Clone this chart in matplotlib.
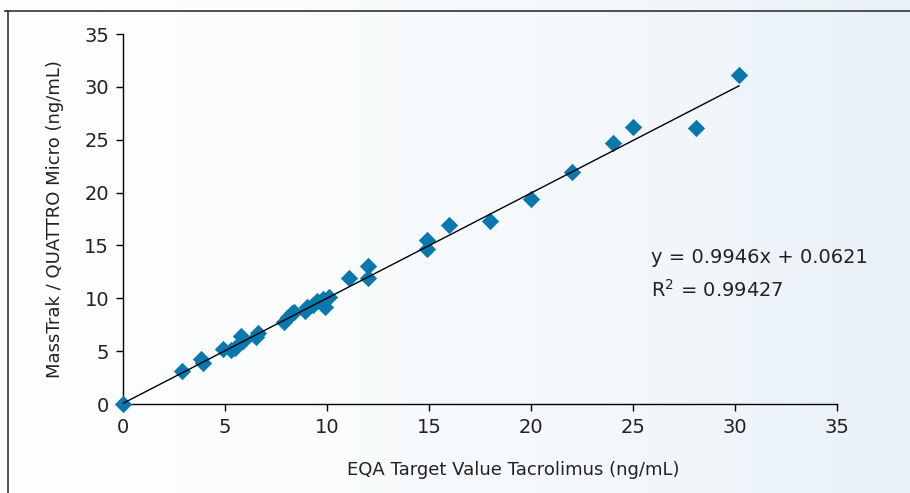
"""EQA tacrolimus comparison - MassTrak vs QUATRO Micro scatter"""
import matplotlib
matplotlib.use("Agg")
import matplotlib.pyplot as plt
from matplotlib.lines import Line2D
import numpy as np

plt.rcParams["font.family"] = ["DejaVu Sans"]
plt.rcParams["text.color"] = "#222222"
plt.rcParams["axes.labelcolor"] = "#222222"
plt.rcParams["xtick.labelcolor"] = "#222222"
plt.rcParams["ytick.labelcolor"] = "#222222"

BLUE = "#0B78AD"

# EQA target value (x) vs measured (y), ng/mL
eqa_target = [0.0, 2.9, 3.8, 3.9, 4.9, 5.3, 5.5, 5.8, 5.9, 6.5, 6.6,
              7.9, 8.1, 8.3, 8.4, 8.9, 9.0, 9.3, 9.5, 9.8, 9.9, 10.1,
              11.1, 12.0, 12.0, 14.9, 14.9, 16.0, 18.0, 20.0, 22.0,
              24.0, 25.0, 28.1, 30.2]
masstrak = [0.0, 3.1, 4.3, 3.9, 5.2, 5.1, 5.3, 6.4, 6.0, 6.3, 6.7,
            7.8, 8.2, 8.6, 8.7, 8.8, 9.2, 9.4, 9.7, 9.9, 9.2, 10.1,
            11.9, 13.1, 11.9, 15.5, 14.7, 16.9, 17.3, 19.4, 21.9,
            24.7, 26.2, 26.1, 31.1]
slope, intercept = 0.9946, 0.0621
r_squared = 0.99427
ticks = [0, 5, 10, 15, 20, 25, 30, 35]

fig = plt.figure(figsize=(9.1, 4.93), dpi=100)

# soft white -> pale blue background
bg = fig.add_axes([0, 0, 1, 1], zorder=-10)
grad = np.linspace(0, 1, 256)[None, :]
bg.imshow(grad, aspect="auto", extent=[0, 1, 0, 1],
          cmap=matplotlib.colors.LinearSegmentedColormap.from_list(
              "bg", ["#ffffff", "#fafcfd", "#f4f8fb", "#e8f1f8"]))
bg.axis("off")
fig.add_artist(Line2D([5 / 910, 1], [1 - 11 / 493, 1 - 11 / 493], color="#333333", lw=1.2))
fig.add_artist(Line2D([8 / 910, 8 / 910], [0, 1 - 11 / 493], color="#333333", lw=1.2))

ax = fig.add_axes([123 / 910, 1 - 404 / 493, 714 / 910, 370 / 493])
ax.patch.set_alpha(0)

ax.scatter(eqa_target, masstrak, marker="D", s=78, color=BLUE, zorder=3,
           clip_on=False, linewidths=0)
xs = np.array([0, max(eqa_target)])
ax.plot(xs, slope * xs + intercept, color="black", lw=1.0, zorder=4)

ax.set_xlim(0, 35)
ax.set_ylim(0, 35)
ax.set_xticks(ticks)
ax.set_yticks(ticks)
ax.tick_params(direction="out", length=5, width=1, labelsize=14, pad=5)
for s in ["top", "right"]:
    ax.spines[s].set_visible(False)
for s in ["left", "bottom"]:
    ax.spines[s].set_linewidth(1.0)

ax.set_xlabel("EQA Target Value Tacrolimus (ng/mL)", fontsize=13)
ax.xaxis.set_label_coords(0.546, -0.155)
ax.set_ylabel("MassTrak / QUATTRO Micro (ng/mL)", fontsize=13)
ax.yaxis.set_label_coords(-0.082, 0.5)

ax.text(25.9, 13.9, f"y = {slope}x + {intercept}", fontsize=14, va="center")
ax.text(25.9, 10.8, f"R$^2$ = {r_squared}", fontsize=14, va="center")

fig.savefig("out.png", dpi=100)
